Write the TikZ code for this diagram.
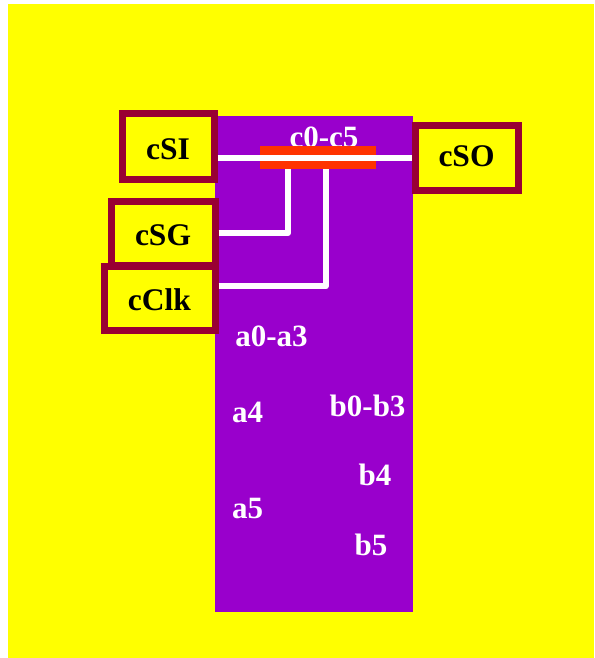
\documentclass[tikz,border=0pt]{standalone}
\usepackage{fontspec}
\setmainfont{Liberation Serif}
\usetikzlibrary{calc}
\definecolor{bgyellow}{RGB}{255,255,0}
\definecolor{chip}{RGB}{153,0,204}
\definecolor{frame}{RGB}{153,0,51}
\definecolor{barred}{RGB}{255,51,0}
\tikzset{
  pinbox/.style={draw=frame, fill=bgyellow, line width=7pt, minimum height=64pt, inner sep=0pt},
  blk/.style={anchor=base, inner sep=0pt, font=\fontsize{31.5}{36}\selectfont\bfseries, text=black},
  wht/.style={anchor=base west, inner sep=0pt, font=\fontsize{31}{36}\selectfont\bfseries, text=white},
  wire/.style={draw=white, line width=6pt, line join=round}
}
\begin{document}
\begin{tikzpicture}[x=1pt,y=-1pt]
\useasboundingbox (0,0) rectangle (594,658);
\fill[bgyellow] (8,4.5) rectangle (594,658);
\node[fill=chip, minimum width=198pt, minimum height=496pt, inner sep=0pt, anchor=north west] (chipbox) at (215,116) {};
\node[wht, anchor=base] (clab) at (324,147) {c0-c5};
\node[fill=barred, minimum width=115.7pt, minimum height=23.3pt, inner sep=0pt, anchor=north west] (bar) at (260,145.7) {};
\node[wht] (la) at (235.2,346) {a0-a3};
\node[wht] (la4) at (232,422.7) {a4};
\node[wht] (lb) at (329.5,416.7) {b0-b3};
\node[wht] (lb4) at (358.5,485) {b4};
\node[wht] (la5) at (232,518.3) {a5};
\node[wht] (lb5) at (354.5,555) {b5};
\node[pinbox, minimum width=103.7pt] (cSG) at (163.2,233) {};
\node[pinbox, minimum width=110.5pt] (cClk) at (159.8,298) {};
\node[pinbox, minimum width=91.6pt, minimum height=66pt] (cSI) at (168.5,146.5) {};
\node[pinbox, minimum width=103.2pt, minimum height=64.5pt] (cSO) at (467,157.8) {};
\node[blk] (tSI) at (168,159) {cSI};
\node[blk] (tSO) at (466.5,166) {cSO};
\node[blk] (tSG) at (163,245.7) {cSG};
\node[blk] (tClk) at (159.3,310) {cClk};
\coordinate (sgtop) at ($(bar.south west)+(28,0)$);
\coordinate (clktop) at ($(bar.south west)+(65.7,0)$);
\coordinate (clkout) at ($(cClk.east)+(0,-11.7)$);
\draw[wire] (cSI.east |- bar.center) -- (cSO.west |- bar.center);
\draw[wire] (cSG.east) -| (sgtop);
\draw[wire] (clkout) -| (clktop);
\end{tikzpicture}
\end{document}
